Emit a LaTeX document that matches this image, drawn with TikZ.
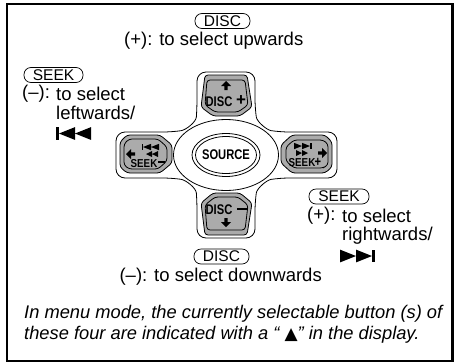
\documentclass[tikz,border=0pt]{standalone}
\usepackage{fontspec}
\setmainfont{Liberation Sans}
\newfontfamily\symfont{DejaVu Sans}
\usetikzlibrary{shapes.geometric}

\begin{document}
\begin{tikzpicture}[
x=1pt, y=-1pt,
label/.style={inner sep=0pt, font=\fontsize{18.5}{20}\selectfont},
note/.style={inner sep=0pt, align=left, font=\fontsize{18.3}{21}\selectfont\itshape},
pill/.style={draw, line width=0.7pt, rounded corners=7pt, inner sep=0pt,
minimum height=15pt, font=\fontsize{15.5}{16}\selectfont},
capbig/.style={inner sep=0pt, xscale=0.8, font=\fontsize{14}{14}\selectfont\bfseries},
capsmall/.style={inner sep=0pt, xscale=0.85, font=\fontsize{11.5}{12}\selectfont\bfseries},
capplus/.style={inner sep=0pt, font=\fontsize{17}{17}\selectfont\bfseries},
shell/.style={draw, line width=0.8pt, fill=white, rounded corners=9pt},
keyface/.style={draw, line width=0.8pt, fill=black!33, rounded corners=3pt},
oval/.style={draw, ellipse, line width=0.8pt, inner sep=0pt},
arrowhead/.pic={\fill (0,-5) -- (5,0) -- (1.7,0) -- (1.7,4) -- (-1.7,4) -- (-1.7,0) -- (-5,0) -- cycle;},
skiptwo/.pic={\fill (0,0) -- (8,-3.2) -- (8,3.2) -- cycle (8,0) -- (16,-3.2) -- (16,3.2) -- cycle;
\fill (-1.5,-3.2) rectangle (0,3.2);},
seektwo/.pic={\fill (0,0) -- (6,-3) -- (6,3) -- cycle (6,0) -- (12,-3) -- (12,3) -- cycle;}
]

\useasboundingbox (0,0) rectangle (454,362);
\draw[line width=2.4pt] (7,4) rectangle (452.6,361);

% outer shape of the pad
\draw[shell] (172,132) .. controls (186,130) and (196,122) .. (197,108) -- (197,72) -- (255,72) -- (255,108)
.. controls (257,122) and (267,130) .. (280,132) -- (337,132) -- (337,178) -- (280,178)
.. controls (267,180) and (257,188) .. (255,202) -- (255,238) -- (197,238) -- (197,202)
.. controls (196,188) and (186,180) .. (172,178) -- (116,178) -- (116,132) -- cycle;

% the four keys
\draw[keyface] (205,75) -- (247,75) -- (252,107) -- (240,116) -- (213,116) -- (201,107) -- cycle;
\draw[keyface] (207,80) -- (245,80) -- (248,105) -- (238,112) -- (215,112) -- (205,105) -- cycle;
\draw[keyface] (205,235) -- (247,235) -- (252,203) -- (240,193) -- (213,193) -- (201,203) -- cycle;
\draw[keyface] (207,230) -- (245,230) -- (248,205) -- (238,197) -- (215,197) -- (205,205) -- cycle;
\draw[keyface] (120,142) -- (127,135) -- (160,135) -- (172,145) -- (172,163) -- (160,173) -- (127,173) -- (120,167) -- cycle;
\draw[keyface] (124,144) -- (129,139) -- (158,139) -- (167,147) -- (167,161) -- (158,169) -- (129,169) -- (124,165) -- cycle;
\draw[keyface] (332,142) -- (325,135) -- (292,135) -- (281,145) -- (281,163) -- (292,173) -- (325,173) -- (332,167) -- cycle;
\draw[keyface] (328,144) -- (323,140) -- (294,140) -- (286,147) -- (286,161) -- (294,168) -- (323,168) -- (328,165) -- cycle;

\node[oval, minimum width=105pt, minimum height=71pt] (ring) at (226,155) {};
\node[oval, minimum width=68pt, minimum height=43pt] (sourceouter) at (226,155) {};
\node[oval, minimum width=61pt, minimum height=37pt] (sourceinner) at (226,155) {};
\node[capbig] (source) at (226,155) {SOURCE};

\node[capbig] (discup) at (219,102) {DISC};
\node[capplus] (plusup) at (241,101) {+};
\node[capbig] (discdown) at (219,210) {DISC};
\draw[line width=1.5pt] (237,209) -- (247,209);
\node[capsmall] (seekleft) at (144,164) {SEEK};
\draw[line width=1.2pt] (158,162) -- (165,162);
\node[capsmall] (seekright) at (302,163) {SEEK};
\node[capbig] (plusbutton) at (318,162) {+};

\pic at (226,86) {arrowhead};
\pic[rotate=180] at (226,222) {arrowhead};
\pic[rotate=90] at (131,154) {arrowhead};
\pic[rotate=-90] at (322,153) {arrowhead};
\pic at (143,147) {skiptwo};
\pic at (146,154) {seektwo};
\pic[xscale=-1] at (310,146) {skiptwo};
\pic[xscale=-1] at (308,153) {seektwo};

% labels
\node[pill, minimum width=55pt] (discplus) at (222.5,21) {DISC};
\node[label, anchor=west] (selectup) at (124,41) {(+): to select upwards};

\node[pill, minimum width=59pt] (seekminus) at (53.5,75) {SEEK};
\node[label, anchor=west] (minusleft) at (22,94) {(–):};
\node[label, anchor=west] (selectleft) at (56,94) {to select};
\node[label, anchor=west] (leftwards) at (56,113) {leftwards/};
\pic[xscale=2, yscale=2] at (59,133.5) {skiptwo};

\node[pill, minimum width=60pt] (seekplus) at (339,196.5) {SEEK};
\node[label, anchor=west] (plusright) at (307,216) {(+):};
\node[label, anchor=west] (selectright) at (342,216) {to select};
\node[label, anchor=west] (rightwards) at (342,236) {rightwards/};
\pic[xscale=-2, yscale=2] at (372,256) {skiptwo};

\node[pill, minimum width=55pt] (discminus) at (221.5,256.5) {DISC};
\node[label, anchor=east] (selectdown) at (322,277) {(–): to select downwards};

\node[note, anchor=west] (menunote) at (24,324.5) {In menu mode, the currently selectable button (s) of\\
these four are indicated with a “ {\symfont\upshape\fontsize{17}{21}\selectfont ▲}” in the display.};

\end{tikzpicture}
\end{document}
